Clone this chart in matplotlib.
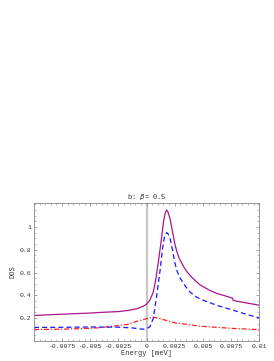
import matplotlib
matplotlib.use("Agg")
import matplotlib.pyplot as plt
from matplotlib.ticker import AutoMinorLocator

plt.rcParams['font.family'] = ['Liberation Mono', 'DejaVu Sans']

# total DOS (solid purple)
x_tot = [-0.01, -0.0075, -0.005, -0.0042, -0.0025, -0.0015, -0.0008, -0.0003, 0.0, 0.0003,
         0.0006, 0.0008, 0.00104, 0.0013, 0.0015, 0.00165, 0.00178, 0.0019, 0.00208, 0.0023,
         0.0025, 0.0027, 0.0029, 0.0031, 0.0033, 0.0036, 0.004, 0.0047, 0.0055, 0.0062,
         0.007, 0.00763, 0.0077, 0.0085, 0.01]
y_tot = [0.224, 0.235, 0.245, 0.25, 0.258, 0.27, 0.285, 0.305, 0.323, 0.36,
         0.43, 0.53, 0.69, 0.88, 1.044, 1.12, 1.149, 1.13, 1.073, 0.96,
         0.855, 0.78, 0.725, 0.685, 0.65, 0.605, 0.56, 0.495, 0.45, 0.418,
         0.395, 0.375, 0.355, 0.34, 0.314]

# dashed blue
x_blue = [-0.01, -0.0075, -0.005, -0.0025, -0.0012, -0.0006, -0.0002, 0.0, 0.0003, 0.0006,
          0.0009, 0.0012, 0.0014, 0.0016, 0.00178, 0.0019, 0.00208, 0.0023, 0.0025, 0.0027,
          0.0029, 0.0033, 0.0036, 0.0039, 0.0043, 0.0047, 0.0055, 0.0062, 0.0077, 0.009, 0.01]
y_blue = [0.119, 0.12, 0.123, 0.121, 0.114, 0.105, 0.104, 0.108, 0.125, 0.2,
          0.40, 0.62, 0.8, 0.92, 0.95, 0.94, 0.9, 0.8, 0.69, 0.615,
          0.565, 0.50, 0.46, 0.425, 0.395, 0.37, 0.34, 0.314, 0.27, 0.23, 0.203]

# dash-dot red
x_red = [-0.01, -0.0072, -0.005, -0.0042, -0.0017, -0.0008, -0.0002, 0.0, 0.0006, 0.0012,
         0.0025, 0.0047, 0.0077, 0.01]
y_red = [0.101, 0.104, 0.112, 0.116, 0.145, 0.175, 0.19, 0.195, 0.21, 0.195,
         0.16, 0.13, 0.11, 0.10]

xticks = [-0.0075, -0.005, -0.0025, 0, 0.0025, 0.005, 0.0075, 0.01]
xticklabels = ["-0.0075", "-0.005", "-0.0025", "0", "0.0025", "0.005", "0.0075", "0.01"]
yticks = [0.2, 0.4, 0.6, 0.8, 1.0]
yticklabels = ["0.2", "0.4", "0.6", "0.8", "1"]

fig = plt.figure(figsize=(2.74, 3.61), dpi=100)
ax = fig.add_axes([0.124, 0.0554, 0.822, 0.3823])

ax.axvline(0, color="#c8c8c8", lw=1.6, zorder=0)
ax.plot(x_red, y_red, color="#ff2020", lw=0.9, dashes=(4, 1.5, 1, 1.5))
ax.plot(x_blue, y_blue, color="#1a1aff", lw=0.9, dashes=(4, 2.5))
ax.plot(x_tot, y_tot, color="#a8168e", lw=0.9)

ax.set_xlim(-0.01, 0.01)
ax.set_ylim(0.0, 1.21)
ax.set_xticks(xticks)
ax.set_xticklabels(xticklabels)
ax.set_yticks(yticks)
ax.set_yticklabels(yticklabels)
ax.xaxis.set_minor_locator(AutoMinorLocator(5))
ax.yaxis.set_minor_locator(AutoMinorLocator(4))
ax.tick_params(which="both", direction="in", top=True, right=True, labelsize=4.6,
               color="#888888", labelcolor="#333333", pad=2)
ax.tick_params(which="major", length=2.5, width=0.5)
ax.tick_params(which="minor", length=1.3, width=0.4)
for s in ax.spines.values():
    s.set_color("#888888")
    s.set_linewidth(0.6)

ax.set_xlabel("Energy [meV]", fontsize=5, labelpad=1, color="#333333")
ax.set_ylabel("DOS", fontsize=5, labelpad=2, color="#333333")
ax.set_title("b: $\\beta$= 0.5", fontsize=5, pad=3, color="#333333")

fig.savefig("out.png", dpi=100)
